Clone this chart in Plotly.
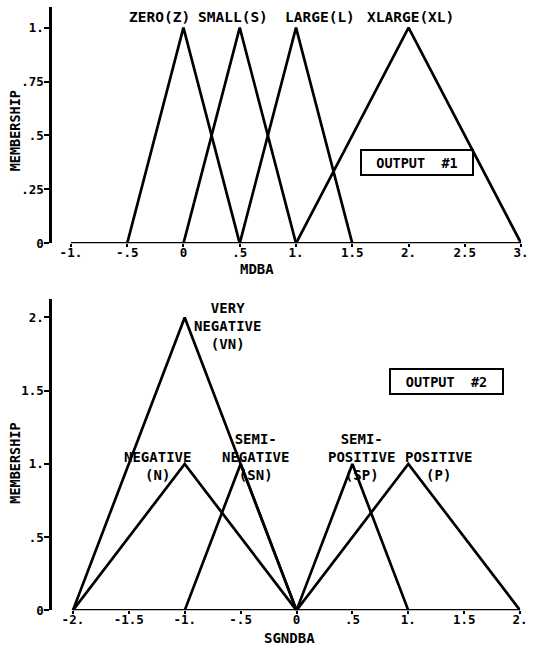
import plotly.graph_objects as go

W, H = 537, 651

# ---- Output #1: MDBA fuzzy sets ----
top_names = ["ZERO(Z)", "SMALL(S)", "LARGE(L)", "XLARGE(XL)"]
top_left = [-0.5, 0.0, 0.5, 1.0]
top_peak = [0.0, 0.5, 1.0, 2.0]
top_right = [0.5, 1.0, 1.5, 3.0]
top_height = [1, 1, 1, 1]
top_label_x = [-0.21, 0.44, 1.215, 2.02]
top_label_y = [1.05, 1.05, 1.05, 1.05]
top_xticks = [-1, -0.5, 0, 0.5, 1, 1.5, 2, 2.5, 3]
top_xtext = ["-1.", "-.5", "0", ".5", "1.", "1.5", "2.", "2.5", "3."]
top_yticks = [0, 0.25, 0.5, 0.75, 1]
top_ytext = ["0", ".25", ".5", ".75", "1."]

# ---- Output #2: SGNDBA fuzzy sets ----
bot_names = ["VERY<br>NEGATIVE<br>(VN)", "NEGATIVE<br>(N)", "SEMI-<br>NEGATIVE<br>(SN)",
             "SEMI-<br>POSITIVE<br>(SP)", "POSITIVE<br>(P)"]
bot_left = [-2.0, -2.0, -1.0, 0.0, 0.0]
bot_peak = [-1.0, -1.0, -0.5, 0.5, 1.0]
bot_right = [0.0, 0.0, 0.0, 1.0, 2.0]
bot_height = [2, 1, 1, 1, 1]
bot_label_x = [-0.62, -1.24, -0.37, 0.58, 1.27]
bot_label_y = [1.94, 0.985, 1.047, 1.047, 0.985]
bot_xticks = [-2, -1.5, -1, -0.5, 0, 0.5, 1, 1.5, 2]
bot_xtext = ["-2.", "-1.5", "-1.", "-.5", "0", ".5", "1.", "1.5", "2."]
bot_yticks = [0, 0.5, 1, 1.5, 2]
bot_ytext = ["0", ".5", "1.", "1.5", "2."]

FONT = dict(family="DejaVu Sans Mono", size=14.5, color="black", weight="bold")
LINE = dict(color="black", width=2.7)


def px_x(p):
    return p / W


def px_y(p):
    return 1 - p / H


fig = go.Figure()

for lo, pk, hi, h in zip(top_left, top_peak, top_right, top_height):
    fig.add_trace(go.Scatter(x=[lo, pk, hi], y=[0, h, 0], mode="lines", line=LINE,
                             xaxis="x", yaxis="y", showlegend=False, hoverinfo="skip"))

for lo, pk, hi, h in zip(bot_left, bot_peak, bot_right, bot_height):
    fig.add_trace(go.Scatter(x=[lo, pk, hi], y=[0, h, 0], mode="lines", line=LINE,
                             xaxis="x2", yaxis="y2", showlegend=False, hoverinfo="skip"))

annotations = []
for name, x, y in zip(top_names, top_label_x, top_label_y):
    annotations.append(dict(x=x, y=y, xref="x", yref="y", text=name, showarrow=False,
                            font=FONT, xanchor="center", yanchor="middle"))
for name, x, y in zip(bot_names, bot_label_x, bot_label_y):
    annotations.append(dict(x=x, y=y, xref="x2", yref="y2", text=name, showarrow=False,
                            font=dict(FONT, size=14), xanchor="center", yanchor="middle",
                            align="center"))

# axis titles
annotations += [
    dict(x=px_x(261), y=px_y(272), xref="paper", yref="paper", text="MDBA", showarrow=False,
         font=dict(FONT, size=14), xanchor="center", yanchor="middle"),
    dict(x=px_x(294), y=px_y(645), xref="paper", yref="paper", text="SGNDBA", showarrow=False,
         font=dict(FONT, size=14), xanchor="center", yanchor="middle"),
    dict(x=px_x(15), y=px_y(132), xref="paper", yref="paper", text="MEMBERSHIP", showarrow=False,
         font=dict(FONT, size=13.5), textangle=-90, xanchor="center", yanchor="middle"),
    dict(x=px_x(15), y=px_y(468), xref="paper", yref="paper", text="MEMBERSHIP", showarrow=False,
         font=dict(FONT, size=13.5), textangle=-90, xanchor="center", yanchor="middle"),
]

# output boxes
annotations += [
    dict(x=px_x(423.5), y=px_y(164), xref="paper", yref="paper", text="OUTPUT  #1",
         showarrow=False, font=dict(FONT, size=13.5), bordercolor="black", borderwidth=2,
         width=108, height=21, xanchor="center", yanchor="middle"),
    dict(x=px_x(453), y=px_y(386), xref="paper", yref="paper", text="OUTPUT  #2",
         showarrow=False, font=dict(FONT, size=13.5), bordercolor="black", borderwidth=2,
         width=109, height=21, xanchor="center", yanchor="middle"),
]

# x axis baselines running between the first and last tick
shapes = [
    dict(type="line", xref="x", yref="y", x0=top_xticks[0], x1=top_xticks[-1], y0=0, y1=0,
         line=dict(color="black", width=2.7)),
    dict(type="line", xref="x2", yref="y2", x0=bot_xticks[0], x1=bot_xticks[-1], y0=0, y1=0,
         line=dict(color="black", width=2.7)),
]

tickfont = dict(FONT, size=12.5)

xcommon = dict(showgrid=False, zeroline=False, showline=False, ticks="outside", ticklen=3,
               tickwidth=2, tickcolor="black", tickfont=tickfont, fixedrange=True)
ycommon = dict(showgrid=False, zeroline=False, showline=True, linecolor="black", linewidth=2.7,
               ticks="outside", ticklen=5, tickwidth=2, tickcolor="black", tickfont=tickfont,
               fixedrange=True, ticklabelstandoff=-2)

fig.update_layout(
    width=W, height=H,
    margin=dict(l=0, r=0, t=0, b=0),
    paper_bgcolor="white", plot_bgcolor="white",
    xaxis=dict(xcommon, domain=[px_x(53), px_x(529)], range=[-1.166, 3.0],
               tickvals=top_xticks, ticktext=top_xtext, anchor="y", ticklabelstandoff=-5),
    yaxis=dict(ycommon, domain=[px_y(246), px_y(7)], range=[0, 1.096],
               tickvals=top_yticks, ticktext=top_ytext, anchor="x"),
    xaxis2=dict(xcommon, domain=[px_x(53), px_x(528)], range=[-2.185, 2.0],
                tickvals=bot_xticks, ticktext=bot_xtext, anchor="y2", ticklabelstandoff=-5),
    yaxis2=dict(ycommon, domain=[px_y(617), px_y(302)], range=[0, 2.128],
                tickvals=bot_yticks, ticktext=bot_ytext, anchor="x2"),
    annotations=annotations,
    shapes=shapes,
)

fig.write_html("out.html")
